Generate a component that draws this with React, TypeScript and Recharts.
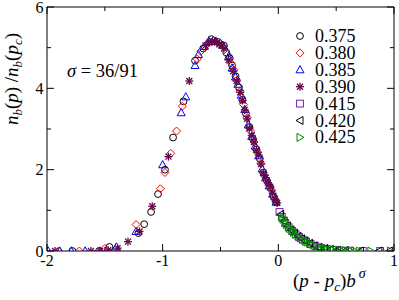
import { ScatterChart, Scatter, XAxis, YAxis, ReferenceArea } from 'recharts'

// (x, y) pairs, one list per p value
const s375 = [
    [-1.78, 0], [-1.55, 0], [-1.46, 0.1], [-1.21, 0.44], [-1.16, 0.66], [-1.1, 0.96], [-1.04, 1.4],
    [-0.98, 2.0], [-0.91, 2.79], [-0.82, 3.68], [-0.72, 4.68], [-0.65, 4.98], [-0.58, 5.21],
    [-0.52, 5.14], [-0.47, 5.05], [-0.45, 4.88], [-0.42, 4.74], [-0.4, 4.56], [-0.37, 4.3],
    [-0.34, 4.02], [-0.31, 3.72], [-0.28, 3.38], [-0.25, 3.05], [-0.22, 2.76], [-0.19, 2.5],
    [-0.16, 2.27], [-0.13, 1.93], [-0.1, 1.74], [-0.07, 1.56], [-0.04, 1.33], [-0.02, 1.21],
]
const s380 = [
    [-1.9, 0], [-1.72, 0], [-1.5, 0.06], [-1.23, 0.65], [-1.02, 1.53], [-0.98, 1.93], [-0.93, 2.4],
    [-0.88, 2.95], [-0.83, 3.56], [-0.7, 4.72], [-0.67, 4.91], [-0.62, 5.08], [-0.56, 5.17],
    [-0.5, 5.1], [-0.44, 4.83], [-0.41, 4.62], [-0.385, 4.45], [-0.36, 4.2], [-0.33, 3.93],
    [-0.3, 3.6], [-0.27, 3.28], [-0.24, 2.95], [-0.21, 2.68], [-0.18, 2.43], [-0.15, 2.15],
    [-0.12, 1.86], [-0.09, 1.67], [-0.06, 1.5], [-0.03, 1.27],
]
const s385 = [
    [-1.99, 0], [-1.89, 0], [-1.79, 0], [-1.67, 0], [-1.54, 0], [-1.4, 0.1], [-1.23, 0.48],
    [-1.0, 2.12], [-0.84, 3.4], [-0.8, 3.79], [-0.72, 4.56], [-0.69, 4.83], [-0.64, 5.03],
    [-0.6, 5.15], [-0.54, 5.16], [-0.48, 5.06], [-0.43, 4.78], [-0.4, 4.5], [-0.37, 4.28],
    [-0.35, 4.1], [-0.32, 3.83], [-0.29, 3.48], [-0.26, 3.1], [-0.23, 2.82], [-0.2, 2.58],
    [-0.17, 2.34], [-0.14, 2.02], [-0.11, 1.8], [-0.08, 1.6], [-0.05, 1.4], [-0.02, 1.2],
]
const s390 = [
    [-1.93, 0], [-1.62, 0], [-1.54, 0], [-1.47, 0.02], [-1.39, 0.07], [-1.3, 0.23], [-1.2, 0.48],
    [-1.09, 1.1], [-0.95, 2.32], [-0.77, 4.18], [-0.63, 5.05], [-0.6, 5.12], [-0.57, 5.16],
    [-0.55, 5.15], [-0.53, 5.13], [-0.51, 5.08], [-0.49, 5.06], [-0.47, 4.98], [-0.43, 4.7],
    [-0.39, 4.42], [-0.36, 4.18], [-0.33, 3.9], [-0.31, 3.7], [-0.29, 3.47], [-0.27, 3.25],
    [-0.25, 3.02], [-0.23, 2.84], [-0.21, 2.68], [-0.19, 2.48], [-0.17, 2.36], [-0.15, 2.14],
    [-0.13, 1.92], [-0.11, 1.8], [-0.09, 1.68], [-0.07, 1.58], [-0.05, 1.42], [-0.03, 1.28],
    [-0.01, 1.18],
]
const s415 = [
    [0.01, 0.96], [0.03, 0.84], [0.06, 0.69], [0.09, 0.58], [0.12, 0.49], [0.15, 0.41], [0.18, 0.34],
    [0.21, 0.28], [0.24, 0.23], [0.28, 0.17], [0.32, 0.12], [0.37, 0.08], [0.42, 0.05], [0.48, 0.03],
    [0.55, 0.01], [0.62, 0.01], [0.73, 0], [0.88, 0],
]
const s420 = [
    [0.02, 0.9], [0.05, 0.74], [0.08, 0.62], [0.11, 0.52], [0.14, 0.44], [0.17, 0.36], [0.2, 0.3],
    [0.23, 0.25], [0.27, 0.19], [0.31, 0.13], [0.35, 0.09], [0.4, 0.06], [0.45, 0.04], [0.51, 0.02],
    [0.58, 0.01], [0.71, 0], [0.87, 0], [0.96, 0],
]
const s425 = [
    [0.03, 0.83], [0.04, 0.78], [0.06, 0.7], [0.07, 0.65], [0.09, 0.59], [0.1, 0.55], [0.12, 0.5],
    [0.13, 0.46], [0.15, 0.41], [0.17, 0.37], [0.19, 0.32], [0.21, 0.29], [0.23, 0.25], [0.25, 0.22],
    [0.27, 0.19], [0.3, 0.15], [0.33, 0.11], [0.36, 0.09], [0.39, 0.07], [0.42, 0.05], [0.46, 0.04],
    [0.5, 0.03], [0.54, 0.02], [0.58, 0.01], [0.62, 0.01], [0.66, 0], [0.7, 0], [0.8, 0], [0.97, 0],
]

const xTicks = [-2, -1.5, -1, -0.5, 0, 0.5, 1]
const yTicks = [0, 1, 2, 3, 4, 5, 6]

const FONT = 'Liberation Serif, Tinos, Nimbus Roman, FreeSerif, Times, serif'
const PLOT_TOP = 7
const PLOT_RIGHT = 394

type MarkerKind = 'circle' | 'diamond' | 'up' | 'star' | 'square' | 'left' | 'right'

const series: { name: string; points: number[][]; kind: MarkerKind; color: string }[] = [
    { name: '0.375', points: s375, kind: 'circle', color: '#000000' },
    { name: '0.380', points: s380, kind: 'diamond', color: '#ff0000' },
    { name: '0.385', points: s385, kind: 'up', color: '#0000ff' },
    { name: '0.390', points: s390, kind: 'star', color: '#670748' },
    { name: '0.415', points: s415, kind: 'square', color: '#7221bc' },
    { name: '0.420', points: s420, kind: 'left', color: '#000000' },
    { name: '0.425', points: s425, kind: 'right', color: '#008b00' },
]

function Marker({ cx, cy, kind, color }: { cx: number; cy: number; kind: MarkerKind; color: string }) {
    const common = { fill: 'none', stroke: color, strokeWidth: 1 }
    switch (kind) {
        case 'circle':
            return <circle cx={cx} cy={cy} r={3.4} {...common} />
        case 'diamond':
            return <polygon points={`${cx},${cy - 4} ${cx + 4},${cy} ${cx},${cy + 4} ${cx - 4},${cy}`} {...common} />
        case 'up':
            return <polygon points={`${cx},${cy - 4.2} ${cx + 4},${cy + 3} ${cx - 4},${cy + 3}`} {...common} />
        case 'square':
            return <rect x={cx - 3.4} y={cy - 3.4} width={6.8} height={6.8} {...common} />
        case 'left':
            return <polygon points={`${cx - 4},${cy} ${cx + 3},${cy - 4} ${cx + 3},${cy + 4}`} {...common} />
        case 'right':
            return <polygon points={`${cx + 4},${cy} ${cx - 3},${cy - 4} ${cx - 3},${cy + 4}`} {...common} />
        case 'star':
            return (
                <g stroke={color} strokeWidth={1.3}>
                    <line x1={cx - 4} y1={cy} x2={cx + 4} y2={cy} />
                    <line x1={cx} y1={cy - 4} x2={cx} y2={cy + 4} />
                    <line x1={cx - 3} y1={cy - 3} x2={cx + 3} y2={cy + 3} />
                    <line x1={cx - 3} y1={cy + 3} x2={cx + 3} y2={cy - 3} />
                </g>
            )
    }
    return null
}

function XTick(props: any) {
    const { x, y, payload } = props
    const v = payload.value
    const major = Number.isInteger(v)
    const len = major ? 7 : 4
    return (
        <g>
            <line x1={x} x2={x} y1={y} y2={y - len} stroke="#000" />
            <line x1={x} x2={x} y1={PLOT_TOP} y2={PLOT_TOP + len} stroke="#000" />
            {major && (
                <text x={x} y={y + 15} textAnchor="middle" fontSize={16} style={{ fontFamily: FONT }} fill="#000">
                    {String(v)}
                </text>
            )}
        </g>
    )
}

function YTick(props: any) {
    const { x, y, payload } = props
    const v = payload.value
    const major = v % 2 === 0
    const len = major ? 7 : 4
    return (
        <g>
            <line x1={x} x2={x + len} y1={y} y2={y} stroke="#000" />
            <line x1={PLOT_RIGHT} x2={PLOT_RIGHT - len} y1={y} y2={y} stroke="#000" />
            {major && (
                <text x={x - 3.5} y={y + 5.5} textAnchor="end" fontSize={16} style={{ fontFamily: FONT }} fill="#000">
                    {String(v)}
                </text>
            )}
        </g>
    )
}

function XTitle() {
    return (
        <text x={293} y={287} fontSize={19} style={{ fontFamily: FONT }} fill="#000">
            <tspan>(</tspan>
            <tspan fontStyle="italic">p</tspan>
            <tspan> - </tspan>
            <tspan fontStyle="italic">p</tspan>
            <tspan fontStyle="italic" fontSize={13} dy={4}>c</tspan>
            <tspan dy={-4}>)</tspan>
            <tspan fontStyle="italic">b</tspan>
            <tspan fontStyle="italic" fontSize={14} dy={-9} dx={3}>σ</tspan>
        </text>
    )
}

// y title, the sigma note and the legend block, all placed in the chart's svg
function YTitle() {
    return (
        <g>
            <text transform="rotate(-90)" x={-79} y={18} textAnchor="middle" fontSize={19} style={{ fontFamily: FONT }} fill="#000">
                <tspan fontStyle="italic">n</tspan>
                <tspan fontStyle="italic" fontSize={13} dy={4}>b</tspan>
                <tspan dy={-4}>(</tspan>
                <tspan fontStyle="italic">p</tspan>
                <tspan>) /</tspan>
                <tspan fontStyle="italic">n</tspan>
                <tspan fontStyle="italic" fontSize={13} dy={4}>b</tspan>
                <tspan dy={-4}>(</tspan>
                <tspan fontStyle="italic">p</tspan>
                <tspan fontStyle="italic" fontSize={13} dy={4}>c</tspan>
                <tspan dy={-4}>)</tspan>
            </text>
            <text x={67} y={77} fontSize={18.5} style={{ fontFamily: FONT }} fill="#000">
                <tspan fontStyle="italic">σ</tspan>
                <tspan> = 36/91</tspan>
            </text>
            {series.map((s, i) => (
                <g key={s.name}>
                    <Marker cx={300} cy={36 + i * 16.9} kind={s.kind} color={s.color} />
                    <text x={315} y={42 + i * 16.9} fontSize={18} style={{ fontFamily: FONT }} fill="#000">
                        {s.name}
                    </text>
                </g>
            ))}
        </g>
    )
}

export default function App() {
    return (
        <div style={{ width: 399, height: 300, background: '#fff' }}>
            <style>{'body{margin:0}'}</style>
            <ScatterChart width={399} height={300} margin={{ top: 7, right: 5, bottom: 0, left: 0 }}>
                <XAxis
                    dataKey="x"
                    type="number"
                    domain={[-2, 1]}
                    ticks={xTicks}
                    interval={0}
                    allowDataOverflow
                    axisLine={false}
                    tickLine={false}
                    tickSize={0}
                    tickMargin={0}
                    height={49}
                    tick={<XTick />}
                    label={<XTitle />}
                />
                <YAxis
                    dataKey="y"
                    type="number"
                    domain={[0, 6]}
                    ticks={yTicks}
                    interval={0}
                    allowDataOverflow
                    axisLine={false}
                    tickLine={false}
                    tickSize={0}
                    tickMargin={0}
                    width={47}
                    tick={<YTick />}
                    label={<YTitle />}
                />
                <ReferenceArea x1={-2} x2={1} y1={0} y2={6} fill="none" stroke="#000" strokeWidth={1} fillOpacity={0} />
                {series.map((s) => (
                    <Scatter
                        key={s.name}
                        name={s.name}
                        data={s.points.map(([x, y]) => ({ x, y }))}
                        isAnimationActive={false}
                        shape={(p: any) => <Marker cx={p.cx} cy={p.cy} kind={s.kind} color={s.color} />}
                    />
                ))}
            </ScatterChart>
        </div>
    )
}
